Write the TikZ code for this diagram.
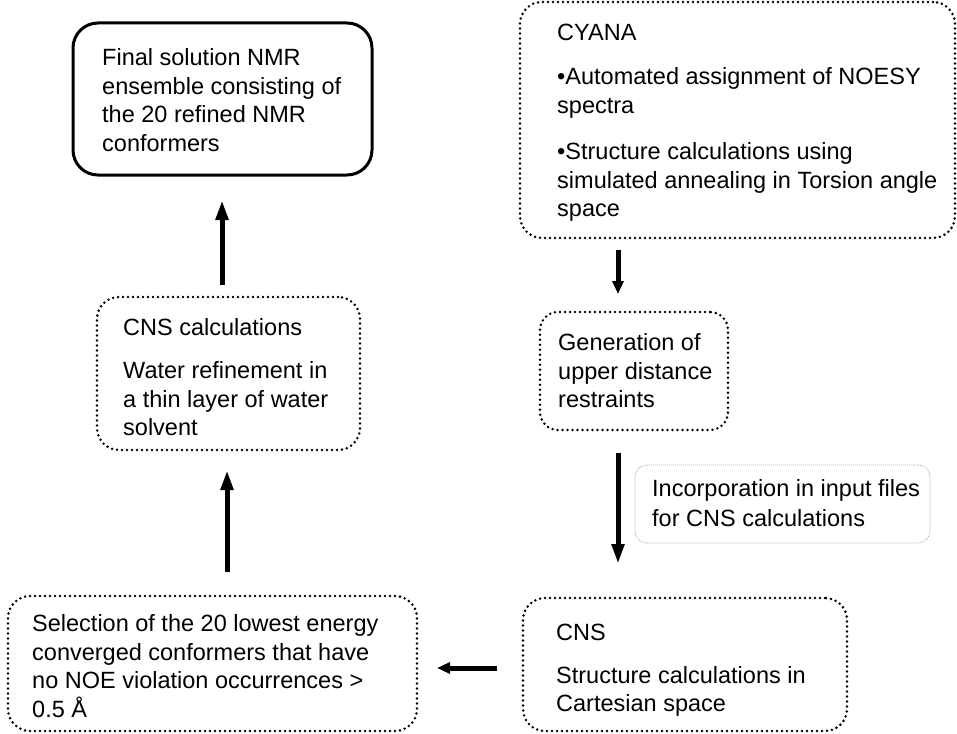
\documentclass[tikz,border=0pt]{standalone}
\usepackage{fontspec}
\setmainfont{Liberation Sans}
\usetikzlibrary{arrows.meta}
\begin{document}
\begin{tikzpicture}[x=1pt,y=-1pt,
  txt/.style={anchor=north west,inner sep=0pt,align=left,font=\fontsize{23.5}{28.5}\selectfont},
  solidbox/.style={draw,line width=3pt,rounded corners=25pt,inner sep=0pt},
  dotbox/.style={draw,line width=2.8pt,dash pattern=on 0pt off 5pt,line cap=round,rounded corners=22pt,inner sep=0pt},
  graybox/.style={draw=gray!70,line width=0.7pt,dash pattern=on 1pt off 1pt,rounded corners=12pt,inner sep=0pt},
  arr/.style={line width=5pt,-{Triangle[length=20pt,width=12pt]}},
  sarr/.style={line width=5pt,-{Triangle[length=13pt,width=11pt]}}]
\useasboundingbox (0,0) rectangle (957,733);
\begin{scope}
\clip (0,0) rectangle (957,733);
% boxes
\node[solidbox,minimum width=299pt,minimum height=152pt] (final) at (222.5,99) {};
\node[dotbox,minimum width=435pt,minimum height=236pt] (cyana) at (737.5,120) {};
\node[dotbox,rounded corners=18pt,minimum width=188pt,minimum height=118pt] (gen) at (634,371) {};
\node[graybox,minimum width=295pt,minimum height=78pt] (inc) at (782.5,504) {};
\node[dotbox,minimum width=263pt,minimum height=153pt] (cnscalc) at (228.5,373.5) {};
\node[dotbox,minimum width=409pt,minimum height=135pt] (sel) at (212.5,663.5) {};
\node[dotbox,minimum width=324pt,minimum height=133pt] (cns) at (685,664.5) {};
\end{scope}
% texts
\node[txt] (finalt) at (102,48.6) {Final solution NMR\\ensemble consisting of\\the 20 refined NMR\\conformers};
\node[txt] (cyanat) at (557,23.6) {CYANA\\[16pt]•Automated assignment of NOESY\\spectra\\[18pt]•Structure calculations using\\simulated annealing in Torsion angle\\space};
\node[txt] (gent) at (558,333.6) {Generation of\\upper distance\\restraints};
\node[txt] (inct) at (652,479.6) {Incorporation in input files\\[1pt]for CNS calculations};
\node[txt] (cnscalct) at (123,318.6) {CNS calculations\\[14.5pt]Water refinement in\\a thin layer of water\\solvent};
\node[txt] (selt) at (32,614.6) {Selection of the 20 lowest energy\\converged conformers that have\\no NOE violation occurrences >\\0.5 Å};
\node[txt] (cnst) at (556,623.6) {CNS\\[14.5pt]Structure calculations in\\Cartesian space};
% arrow end points
\coordinate (a1s) at (222,285); \coordinate (a1e) at (222,200);
\coordinate (a2s) at (227,572); \coordinate (a2e) at (227,470);
\coordinate (a3s) at (618,250); \coordinate (a3e) at (618,294);
\coordinate (a4s) at (618,453); \coordinate (a4e) at (618,564);
\coordinate (a5s) at (497,668); \coordinate (a5e) at (437,668);
\draw[arr] (a1s) -- (a1e);
\draw[arr] (a2s) -- (a2e);
\draw[sarr] (a3s) -- (a3e);
\draw[arr] (a4s) -- (a4e);
\draw[sarr] (a5s) -- (a5e);
\end{tikzpicture}
\end{document}
